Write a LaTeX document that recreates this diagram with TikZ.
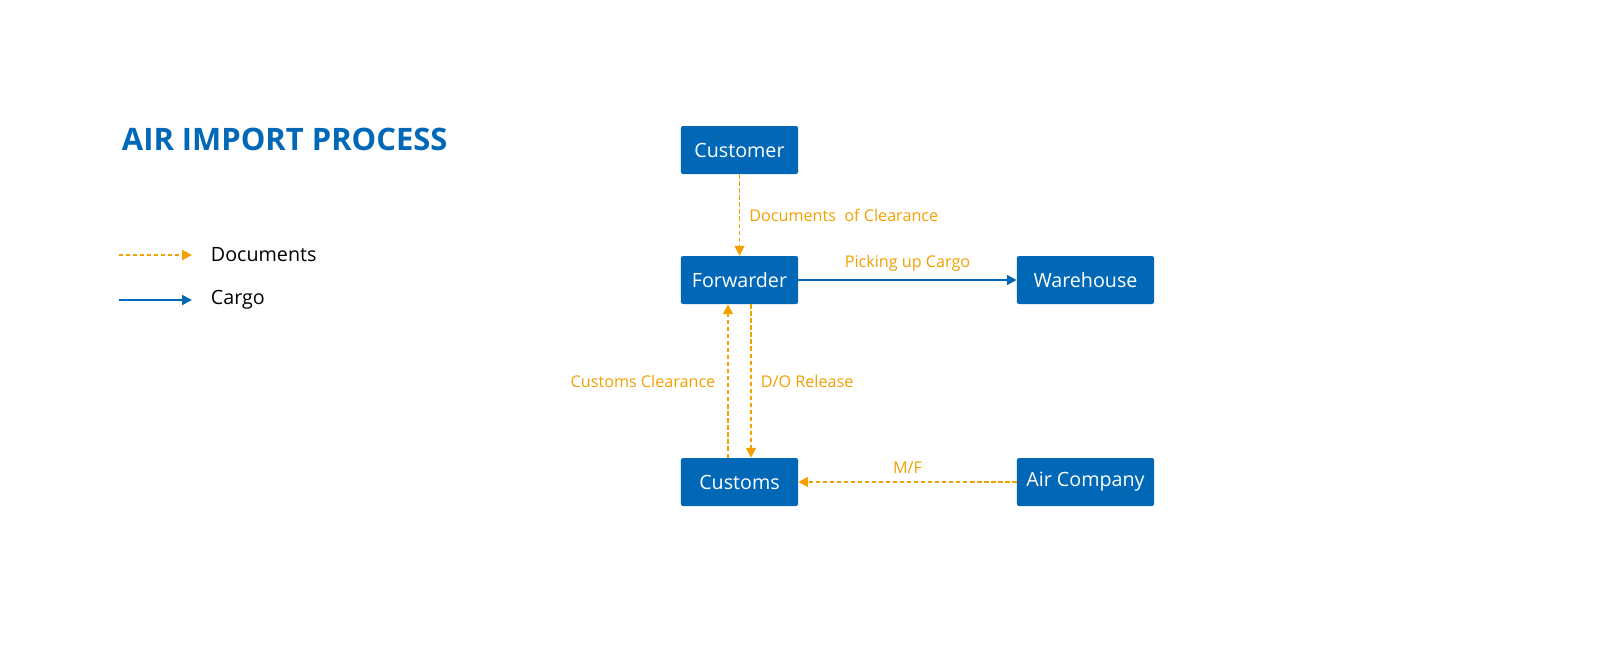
\documentclass[tikz,border=0pt]{standalone}
\usepackage{fontspec}
\setmainfont{Open Sans}
\usetikzlibrary{arrows.meta,calc,positioning}
\definecolor{airblue}{RGB}{0,104,183}
\definecolor{docorange}{RGB}{243,160,0}
\tikzset{
  party/.style={fill=airblue, text=white, rounded corners=1.5pt,
    minimum width=2.925cm, minimum height=1.2cm, inner sep=0pt,
    font=\fontsize{14}{16}\selectfont},
  widebox/.style={party, minimum width=3.425cm},
  docflow/.style={draw=docorange, line width=1.4pt, dash pattern=on 3pt off 2pt,
    -{Triangle[length=7pt,width=7pt]}},
  cargoflow/.style={draw=airblue, line width=1.4pt, -{Triangle[length=7pt,width=7pt]}},
  flowlabel/.style={text=docorange, font=\fontsize{11.5}{13}\selectfont},
  legendtext/.style={anchor=west, font=\fontsize{14}{16}\selectfont}
}
\begin{document}
\begin{tikzpicture}[x=0.025cm, y=-0.025cm]
  \useasboundingbox (0,0) rectangle (1600,660);

  %%%%% TITLE AND LEGEND %%%%%
  \node[anchor=base west, text=airblue, font=\fontsize{22}{26}\selectfont\bfseries]
    (title) at (117,150) {AIR IMPORT PROCESS};

  \coordinate (docA) at (119,255);
  \coordinate (docB) at (192,255);
  \coordinate (cargoA) at (119,300);
  \coordinate (cargoB) at (192,300);
  \draw[docflow] (docA) -- (docB);
  \draw[cargoflow] (cargoA) -- (cargoB);
  \node[legendtext] (doclegend) at (206,255) {Documents};
  \node[legendtext] (cargolegend) at (206,300) {Cargo};

  %%%%% PARTIES %%%%%
  \node[party] (customer) at (739.5,150) {Customer};
  \node[party] (forwarder) at (739.5,280) {Forwarder};
  \node[widebox] (warehouse) at (1085.5,280) {Warehouse};
  \node[party] (customs) at (739.5,482) {Customs};
  \node[widebox] (aircompany) at (1085.5,482) {Air Company};

  %%%%% FLOWS %%%%%
  \draw[docflow] (customer) -- node[flowlabel, right=3pt] {Documents\ \ of Clearance} (forwarder);
  \draw[cargoflow] (forwarder) -- node[flowlabel, above=2pt] {Picking up Cargo} (warehouse);
  \draw[docflow] ($(customs.north)+(-11.5,0)$) -- node[flowlabel, left=5pt] {Customs Clearance}
    ($(forwarder.south)+(-11.5,0)$);
  \draw[docflow] ($(forwarder.south)+(11.5,0)$) -- node[flowlabel, right=3pt] {D/O Release}
    ($(customs.north)+(11.5,0)$);
  \draw[docflow] (aircompany) -- node[flowlabel, above=2pt] {M/F} (customs);
\end{tikzpicture}
\end{document}
